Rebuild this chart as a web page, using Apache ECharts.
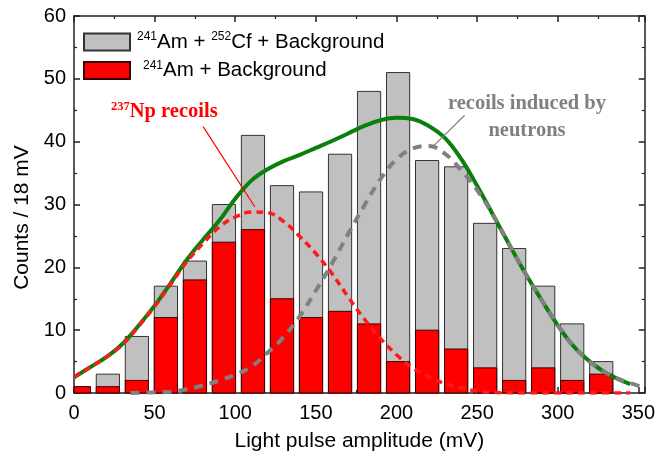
<!DOCTYPE html>
<html>
<head>
<meta charset="utf-8">
<script src="https://cdn.jsdelivr.net/npm/echarts@6/dist/echarts.min.js"></script>
<style>
html,body{margin:0;padding:0;background:#fff;}
#chart{width:658px;height:457px;}
</style>
</head>
<body>
<div id="chart"></div>
<script>
// Histogram bins (mV, bin centres)
var binCenters = [3,21,39,57,75,93,111,129,147,165,183,201,219,237,255,273,291,309,327];
var countsAmCfBg = [1,3,9,17,21,30,41,33,32,38,48,51,37,36,27,23,17,11,5];
var countsAmBg   = [1,1,2,12,18,24,26,15,12,13,11,5,10,7,4,2,4,2,3];

// Fitted curves
var totalFitX = [0,10,20,30,40,50,60,70,80,90,100,110,120,130,140,150,160,170,180,190,200,210,220,230,240,250,260,270,280,290,300,310,320,330,345];
var totalFitY = [2.5,4.1,5.7,7.8,10.7,13.9,17.5,21.2,24.4,27.4,30.9,33.8,35.6,36.9,37.9,39.0,40.1,41.3,42.5,43.4,43.8,43.6,42.5,40.6,37.3,33.0,28.3,23.6,19.0,14.8,10.8,7.4,5.0,3.2,1.4];

var npFitX = [0,10,20,30,40,50,60,70,80,90,100,110,120,130,140,150,160,170,180,190,200,210,220,230,240,250,260,280,300,320,345];
var npFitY = [2.5,4.1,5.7,7.7,10.6,13.8,17.3,20.9,23.8,26.4,28.0,28.8,28.7,27.3,24.9,22.2,19.0,15.3,11.8,8.7,6.1,4.0,2.6,1.5,0.8,0.3,0.1,0,0,0,0];

var neutronFitX = [35,50,60,70,80,90,100,110,120,130,140,150,160,170,180,190,200,210,220,230,240,250,260,270,280,290,300,310,320,330,340,352];
var neutronFitY = [0,0.1,0.2,0.6,1.2,2.0,2.9,4.2,6.4,8.9,12.2,16.3,20.6,25.3,29.8,34.0,37.2,38.9,39.3,38.1,35.5,32.3,28.3,23.6,19.0,14.8,10.8,7.4,5.0,3.2,2.0,1.0];

// Axis settings
var xTickLabels = [0,50,100,150,200,250,300,350];
var yTickLabels = [0,10,20,30,40,50,60];

// Annotation arrows (data coordinates)
var npArrow = [[80.1,42.4],[112.2,29.6]];
var neutronArrow = [[242.3,44.2],[222.6,39.2]];

function pairs(xs, ys){ return xs.map(function(x,i){ return [x, ys[i]]; }); }

var sans = '"Liberation Sans", Arial, sans-serif';
var serif = '"Liberation Serif", "Times New Roman", serif';
var BAR_W_MV = 14.4;

function makeBarRenderer(fill, stroke){
  return function(params, api){
    var x = api.value(0), y = api.value(1);
    var p0 = api.coord([x, 0]);
    var p1 = api.coord([x, y]);
    var w = api.size([BAR_W_MV, 0])[0];
    var cs = params.coordSys;
    var rect = echarts.graphic.clipRectByRect(
      {x: p0[0] - w/2, y: p1[1], width: w, height: p0[1] - p1[1]},
      {x: cs.x, y: cs.y, width: cs.width, height: cs.height}
    );
    if (!rect) return null;
    return {type:'rect', shape: rect, style:{fill: fill, stroke: stroke, lineWidth: 1}};
  };
}

var chart = echarts.init(document.getElementById('chart'), null, {renderer:'canvas'});

var axisLineStyle = {color:'#222', width:1.5};

var option = {
  animation:false,
  grid:{left:74, right:12, top:16, bottom:64, containLabel:false},
  legend:{
    orient:'vertical', left:83, top:31, padding:0, itemWidth:46, itemHeight:17, itemGap:7,
    icon:'rect',
    textStyle:{
      fontFamily:sans, fontSize:20.5, color:'#000',
      rich:{
        sup:{fontFamily:sans, fontSize:12, color:'#000', verticalAlign:'top', lineHeight:9},
        n:{fontFamily:sans, fontSize:20.5, color:'#000', lineHeight:22},
        pad1:{width:2},
        pad2:{width:8}
      }
    },
    formatter:function(name){
      if(name === 'a') return '{pad1|}{sup|241}{n|Am + }{sup|252}{n|Cf + Background}';
      return '{pad2|}{sup|241}{n|Am + Background}';
    },
    data:['a','b']
  },
  xAxis:[{
    type:'value', min:0, max:354, interval:50, position:'bottom',
    name:'Light pulse amplitude (mV)', nameLocation:'middle', nameGap:38,
    nameTextStyle:{fontFamily:sans, fontSize:21, color:'#000'},
    axisLine:{show:true, onZero:false, lineStyle:axisLineStyle},
    axisTick:{show:true, inside:true, length:6, lineStyle:axisLineStyle},
    minorTick:{show:true, splitNumber:2, length:3, lineStyle:{color:'#222', width:1.2}},
    axisLabel:{fontFamily:sans, fontSize:20, color:'#000', margin:10,
      formatter:function(v){ return xTickLabels.indexOf(v) >= 0 ? String(v) : ''; }},
    splitLine:{show:false}
  },{
    type:'value', min:0, max:354, interval:50, position:'top',
    axisLine:{show:true, onZero:false, lineStyle:axisLineStyle},
    axisTick:{show:true, inside:true, length:6, lineStyle:axisLineStyle},
    minorTick:{show:true, splitNumber:2, length:3, lineStyle:{color:'#222', width:1.2}},
    axisLabel:{show:false}, splitLine:{show:false}
  }],
  yAxis:[{
    type:'value', min:0, max:60, interval:10, position:'left',
    name:'Counts / 18 mV', nameLocation:'middle', nameGap:36,
    nameTextStyle:{fontFamily:sans, fontSize:21, color:'#000', padding:[0,26,0,0]},
    axisLine:{show:true, onZero:false, lineStyle:axisLineStyle},
    axisTick:{show:true, inside:true, length:6, lineStyle:axisLineStyle},
    minorTick:{show:true, splitNumber:2, length:3, lineStyle:{color:'#222', width:1.2}},
    axisLabel:{fontFamily:sans, fontSize:20, color:'#000', margin:8,
      formatter:function(v){ return yTickLabels.indexOf(v) >= 0 ? String(v) : ''; }},
    splitLine:{show:false}
  },{
    type:'value', min:0, max:60, interval:10, position:'right',
    axisLine:{show:true, onZero:false, lineStyle:axisLineStyle},
    axisTick:{show:true, inside:true, length:6, lineStyle:axisLineStyle},
    minorTick:{show:true, splitNumber:2, length:3, lineStyle:{color:'#222', width:1.2}},
    axisLabel:{show:false}, splitLine:{show:false}
  }],
  series:[
    {
      name:'a', type:'custom', xAxisIndex:0, yAxisIndex:0, z:2,
      data:pairs(binCenters, countsAmCfBg), encode:{x:0, y:1},
      renderItem: makeBarRenderer('#c0c0c0', '#333'),
      itemStyle:{color:'#c0c0c0', borderColor:'#333', borderWidth:1}
    },
    {
      name:'b', type:'custom', xAxisIndex:0, yAxisIndex:0, z:3,
      data:pairs(binCenters, countsAmBg), encode:{x:0, y:1},
      renderItem: makeBarRenderer('#ff0000', '#3a0000'),
      itemStyle:{color:'#ff0000', borderColor:'#3a0000', borderWidth:1}
    },
    {
      name:'total fit', type:'line', smooth:0.4, showSymbol:false, z:4,
      data:pairs(totalFitX, totalFitY),
      lineStyle:{color:'#0a7f0a', width:4}
    },
    {
      name:'Np fit', type:'line', smooth:0.4, showSymbol:false, z:5,
      data:pairs(npFitX, npFitY),
      lineStyle:{color:'#ff1a1a', width:3.5, type:[7,5]},
      markLine:{
        silent:true, symbol:['none','arrow'], symbolSize:[0,9],
        label:{show:false},
        lineStyle:{color:'#ff0000', width:1.2, type:'solid'},
        data:[[{coord:npArrow[0]},{coord:npArrow[1]}]]
      }
    },
    {
      name:'neutron fit', type:'line', smooth:0.4, showSymbol:false, z:6,
      data:pairs(neutronFitX, neutronFitY),
      lineStyle:{color:'#808080', width:4, type:[9,7]},
      markLine:{
        silent:true, symbol:['none','arrow'], symbolSize:[0,9],
        label:{show:false},
        lineStyle:{color:'#808080', width:1.2, type:'solid'},
        data:[[{coord:neutronArrow[0]},{coord:neutronArrow[1]}]]
      }
    }
  ],
  graphic:[
    {
      type:'text', left:111, top:100, z:100,
      style:{
        text:'{s|237}{m|Np recoils}',
        rich:{
          s:{fontFamily:serif, fontWeight:'bold', fontSize:12.5, fill:'#ff0000', verticalAlign:'top', lineHeight:9},
          m:{fontFamily:serif, fontWeight:'bold', fontSize:20.5, fill:'#ff0000', lineHeight:24}
        }
      }
    },
    {
      type:'text', x:527, y:90, z:100,
      style:{
        text:'recoils induced by\nneutrons', align:'center', verticalAlign:'top',
        font:'bold 20.5px ' + serif, fill:'#808080', lineHeight:27
      }
    }
  ]
};
chart.setOption(option);
</script>
</body>
</html>
